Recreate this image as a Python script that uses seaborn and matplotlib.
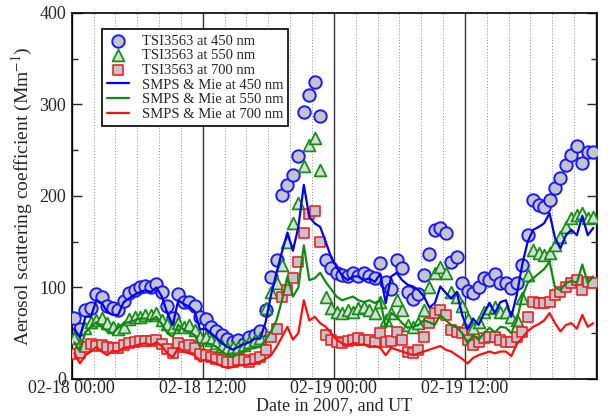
import numpy as np
import pandas as pd
import matplotlib
matplotlib.use("Agg")
import matplotlib.pyplot as plt
import seaborn as sns
from matplotlib.ticker import MultipleLocator

sns.set_style("ticks")
plt.rcParams["font.family"] = ["Liberation Serif", "DejaVu Serif"]
plt.rcParams["mathtext.fontset"] = "stix"

# =========================
# DATA (hours after 02-18 00:00 UT, half-hourly)
# =========================

hours = np.arange(0.25, 48, 0.5)

tsi_450 = [67, 55, 75, 78, 93, 90, 80, 77, 75, 85, 94, 97, 100, 102, 100, 104,
           95, 80, 67, 93, 84, 84, 80, 68, 65, 57, 52, 48, 44, 40, 43, 38,
           46, 48, 52, 75, 111, 130, 201, 212, 223, 244, 292, 310, 324, 287,
           130, 121, 116, 114, 112, 116, 112, 116, 112, 110, 127, 106, 98, 130, 121, 95,
           87, 93, 114, 136, 163, 165, 160, 128, 133, 105, 96, 94, 101, 110, 108, 115,
           105, 105, 99, 105, 125, 157, 196, 190, 188, 196, 209, 220, 234, 245, 254, 236,
           248, 248]

tsi_550 = [45, 38, 56, 62, 64, 67, 61, 57, 55, 57, 66, 68, 68, 70, 70, 72,
           64, 60, 57, 61, 57, 59, 54, 46, 46, 43, 39, 36, 34, 35, 35, 37,
           40, 43, 45, 78, 95, 105, 125, 150, 170, 192, 233, 256, 263, 228,
           90, 77, 73, 72, 75, 73, 77, 79, 75, 72, 84, 64, 72, 86, 75, 59,
           57, 61, 75, 100, 116, 122, 116, 95, 90, 80, 66, 56, 62, 73, 77, 79,
           73, 73, 68, 64, 88, 114, 141, 138, 135, 138, 146, 155, 166, 176, 179, 181,
           176, 177]

tsi_700 = [27, 28, 35, 38, 36, 37, 35, 34, 34, 37, 39, 40, 41, 42, 41, 43,
           38, 33, 28, 39, 35, 37, 34, 27, 26, 24, 22, 21, 19, 19, 21, 21,
           19, 22, 24, 32, 46, 55, 90, 97, 110, 128, 160, 180, 183, 150,
           48, 43, 40, 39, 41, 43, 45, 43, 43, 40, 50, 40, 42, 51, 43, 30,
           28, 32, 46, 61, 72, 75, 70, 54, 51, 50, 43, 37, 40, 45, 46, 46,
           43, 40, 40, 46, 51, 68, 84, 83, 83, 84, 92, 95, 101, 105, 108, 97,
           106, 105]

smps_450 = [55, 45, 68, 68, 86, 83, 73, 70, 70, 84, 88, 92, 95, 97, 95, 100,
            90, 72, 59, 86, 82, 79, 74, 54, 55, 50, 45, 39, 35, 32, 35, 38,
            40, 44, 44, 62, 92, 116, 139, 160, 140, 166, 212, 177, 170, 166,
            150, 133, 122, 113, 108, 112, 112, 108, 110, 106, 115, 83, 112, 116, 108, 103,
            101, 97, 90, 78, 83, 101, 94, 88, 95, 70, 54, 66, 59, 72, 83, 72,
            84, 86, 68, 92, 125, 150, 163, 166, 170, 181, 154, 143, 157, 163, 157, 178,
            157, 165]

smps_550 = [40, 30, 51, 57, 62, 57, 52, 50, 56, 61, 62, 64, 66, 66, 64, 68,
            60, 50, 46, 59, 54, 51, 48, 35, 39, 38, 35, 30, 26, 24, 28, 31,
            33, 34, 35, 43, 52, 64, 86, 112, 90, 100, 146, 108, 110, 116,
            106, 98, 90, 86, 88, 90, 86, 84, 86, 83, 86, 56, 72, 68, 61, 56,
            57, 59, 64, 62, 59, 70, 64, 59, 57, 50, 39, 48, 43, 50, 56, 51,
            57, 56, 50, 64, 90, 105, 110, 115, 120, 128, 100, 97, 105, 107, 105, 125,
            105, 112]

smps_700 = [28, 17, 26, 30, 35, 30, 26, 31, 30, 34, 35, 36, 38, 39, 37, 40,
            36, 28, 24, 34, 30, 28, 26, 19, 21, 19, 17, 14, 12, 13, 15, 15,
            16, 17, 19, 22, 26, 35, 46, 57, 43, 50, 86, 64, 68, 61,
            57, 50, 43, 39, 37, 39, 37, 38, 35, 36, 34, 26, 34, 32, 30, 28,
            26, 28, 30, 32, 34, 36, 32, 30, 26, 22, 17, 23, 26, 28, 30, 28,
            30, 30, 25, 38, 45, 52, 57, 60, 64, 72, 61, 52, 59, 61, 55, 70,
            57, 61]

tick_pos = [0, 12, 24, 36, 48]
tick_labels = ["02-18 00:00", "02-18 12:00", "02-19 00:00", "02-19 12:00", ""]

df = pd.DataFrame({
    "hours": hours,
    "tsi_450": tsi_450, "tsi_550": tsi_550, "tsi_700": tsi_700,
    "smps_450": smps_450, "smps_550": smps_550, "smps_700": smps_700,
})

# =========================
# PLOT
# =========================

fig = plt.figure(figsize=(6.08, 4.19), dpi=100)
ax = fig.add_axes([0.118, 0.0955, 0.864, 0.874])

grey = "#c4c4cc"

sns.scatterplot(data=df, x="hours", y="tsi_450", ax=ax, marker="o", s=80,
                facecolor=grey, edgecolor="#1a1aff", linewidth=1.4,
                label="TSI3563 at 450 nm", zorder=3)
sns.scatterplot(data=df, x="hours", y="tsi_550", ax=ax, marker="^", s=72,
                facecolor="#d8dcd8", edgecolor="#169016", linewidth=1.3,
                label="TSI3563 at 550 nm", zorder=3)
sns.scatterplot(data=df, x="hours", y="tsi_700", ax=ax, marker="s", s=50,
                facecolor=grey, edgecolor="#ee2222", linewidth=1.2,
                label="TSI3563 at 700 nm", zorder=3)

sns.lineplot(data=df, x="hours", y="smps_450", ax=ax, color="#0000ee", lw=1.6,
             label="SMPS & Mie at 450 nm", zorder=4)
sns.lineplot(data=df, x="hours", y="smps_550", ax=ax, color="#108a10", lw=1.6,
             label="SMPS & Mie at 550 nm", zorder=4)
sns.lineplot(data=df, x="hours", y="smps_700", ax=ax, color="#ff1010", lw=1.6,
             label="SMPS & Mie at 700 nm", zorder=4)

ax.set_xlim(0, 48.1)
ax.set_ylim(0, 400)

ax.set_xticks(tick_pos)
ax.set_xticklabels(tick_labels)
ax.xaxis.set_minor_locator(MultipleLocator(2))
ax.yaxis.set_major_locator(MultipleLocator(100))
ax.yaxis.set_minor_locator(MultipleLocator(50))

ax.grid(which="minor", axis="x", ls=(0, (1, 2)), color="#888888", lw=0.7)
ax.grid(which="major", axis="x", ls="-", color="#333333", lw=1.0)
ax.grid(False, axis="y", which="both")

ax.tick_params(axis="x", which="both", length=0, labelsize=13, pad=1)
ax.tick_params(axis="y", which="major", direction="in", length=7, width=1,
               left=True, right=True, labelsize=13, pad=4)
ax.tick_params(axis="y", which="minor", direction="in", length=4, width=1,
               left=True, right=True)

for sp in ax.spines.values():
    sp.set_visible(True)
    sp.set_linewidth(1.2)
    sp.set_color("black")

ax.set_xlabel("Date in 2007, and UT", fontsize=13, labelpad=0)
ax.set_ylabel("Aerosol scattering coefficient (Mm$^{-1}$)", fontsize=14, labelpad=3)

leg = ax.legend(loc="upper left", bbox_to_anchor=(0.043, 0.975), fontsize=10.5,
                frameon=True, fancybox=False, framealpha=1, edgecolor="black",
                handlelength=1.5, labelspacing=0.1, borderpad=0.35,
                handletextpad=0.9)
leg.get_frame().set_linewidth(1.2)

fig.savefig("out.png", dpi=100)
